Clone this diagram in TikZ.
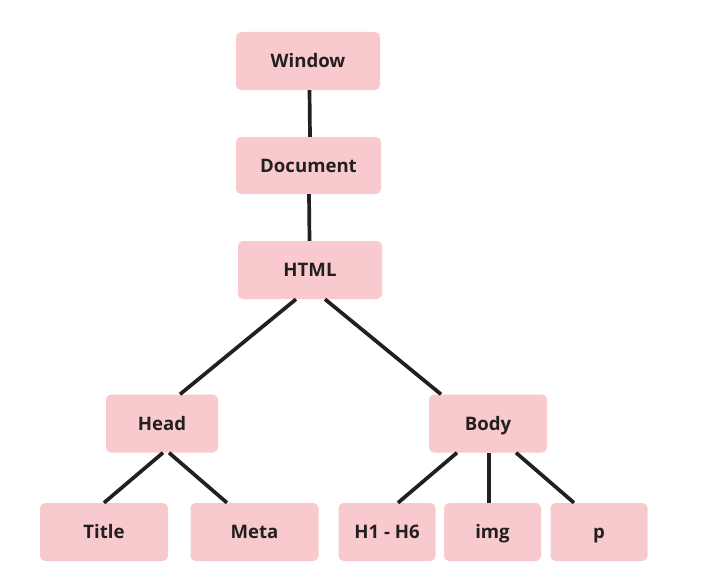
\documentclass[tikz,border=0pt]{standalone}
\usepackage{fontspec}
\setmainfont{Open Sans}
\begin{document}
\begin{tikzpicture}[x=1pt,y=-1pt,
  box/.style={fill=boxpink, rounded corners=5pt, inner sep=0pt,
    text height=13.3pt, text depth=0pt,
    font=\fontsize{18.6}{20}\selectfont\bfseries, text=ink},
  link/.style={draw=ink, line width=3.7pt}]
\definecolor{boxpink}{HTML}{F8CACE}
\definecolor{ink}{HTML}{231F20}
\useasboundingbox (0,0) rectangle (711,586);
% DOM tree nodes
\node[box, minimum width=144pt, minimum height=58pt] (win)  at (308,61)    {Window};
\node[box, minimum width=145pt, minimum height=57pt] (doc)  at (308.5,165.5) {Document};
\node[box, minimum width=144pt, minimum height=58pt] (html) at (310,270)   {HTML};
\node[box, minimum width=112pt, minimum height=58pt] (head) at (162,423.5) {Head};
\node[box, minimum width=118pt, minimum height=58pt] (body) at (488,423.5) {Body};
\node[box, minimum width=128pt, minimum height=58pt] (title) at (104,532)  {Title};
\node[box, minimum width=128pt, minimum height=58pt] (meta)  at (254.5,532) {Meta};
\node[box, minimum width=97pt, minimum height=58pt] (hx)   at (387,532)   {H1 - H6};
\node[box, minimum width=97pt, minimum height=58pt] (img)  at (492.5,532) {img};
\node[box, minimum width=97pt, minimum height=58pt] (par)  at (599,532)   {p};
% connectors
\draw[link] ([xshift=1.5pt]win.south) -- ([xshift=1.5pt]doc.north);
\draw[link] ([xshift=0.5pt]doc.south) -- ([xshift=-0.5pt]html.north);
\draw[link] ([xshift=-14pt]html.south) -- ([xshift=18pt]head.north);
\draw[link] ([xshift=15pt]html.south) -- ([xshift=-47pt]body.north);
\draw[link] ([xshift=1pt]head.south) -- (title.north);
\draw[link] ([xshift=7pt]head.south) -- ([xshift=-27.5pt]meta.north);
\draw[link] ([xshift=-31pt]body.south) -- ([xshift=11pt]hx.north);
\draw[link] ([xshift=1pt]body.south) -- ([xshift=-3.5pt]img.north);
\draw[link] ([xshift=28pt]body.south) -- ([xshift=-25pt]par.north);
\end{tikzpicture}
\end{document}
